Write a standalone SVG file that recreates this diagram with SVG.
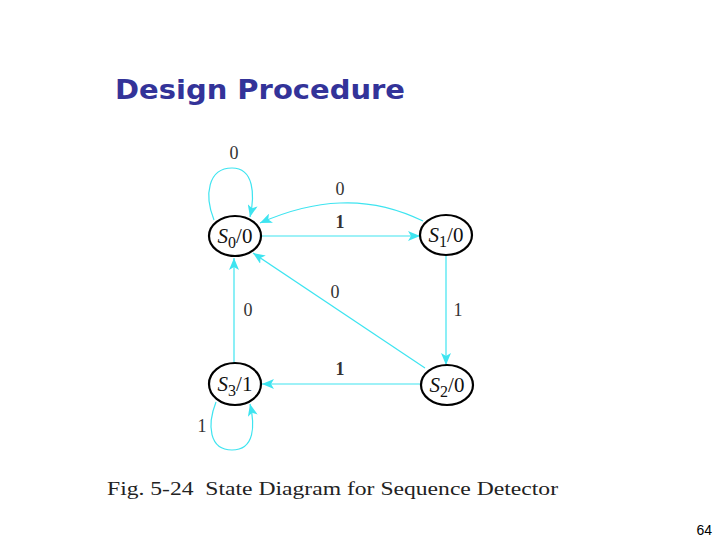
<svg xmlns="http://www.w3.org/2000/svg" width="720" height="540" viewBox="0 0 720 540">
<style>
.node{fill:#fff;stroke:#000;stroke-width:2.2}
.edge{fill:none;stroke:#3ee4f0;stroke-width:1.2}
.lbl{font-family:"Liberation Serif",serif;font-size:18px;fill:#333;text-anchor:middle}
.st{font-family:"Liberation Serif",serif;font-size:21px;fill:#111;text-anchor:middle}
</style>
<defs>
<marker id="ah" viewBox="0 0 12 10" refX="12" refY="5" markerWidth="12" markerHeight="10" markerUnits="userSpaceOnUse" orient="auto">
<path d="M0,0 L12,5 L0,10 L3,5 Z" fill="#3ee4f0"/>
</marker>
</defs>
<rect width="720" height="540" fill="#fff"/>
<text x="115" y="99" font-family="'DejaVu Sans',Verdana,sans-serif" font-weight="bold" font-size="27" fill="#333399" textLength="290" lengthAdjust="spacingAndGlyphs">Design Procedure</text>
<g id="connectors">
<path class="edge" d="M214,220 C204,195 208,168 232,168 C254,168 255,195 250,217" marker-end="url(#ah)"/>
<path class="edge" d="M423,221 C390,205 360,202 340,203 C310,204 285,212 260,223" marker-end="url(#ah)"/>
<path class="edge" d="M261,236 L420,236" marker-end="url(#ah)"/>
<path class="edge" d="M446,256 L446,365" marker-end="url(#ah)"/>
<path class="edge" d="M421,384 L262,384" marker-end="url(#ah)"/>
<path class="edge" d="M425,368 L253,253" marker-end="url(#ah)"/>
<path class="edge" d="M234,363 L234,258" marker-end="url(#ah)"/>
<path class="edge" d="M216,402 C207,425 209,450 232,450 C255,450 255,425 250,404" marker-end="url(#ah)"/>
<text class="lbl" x="234" y="159">0</text>
<text class="lbl" x="340" y="195">0</text>
<text class="lbl" x="340" y="228" font-weight="bold">1</text>
<text class="lbl" x="335" y="298">0</text>
<text class="lbl" x="248" y="316">0</text>
<text class="lbl" x="458" y="316">1</text>
<text class="lbl" x="340" y="375" font-weight="bold">1</text>
<text class="lbl" x="202" y="432">1</text>
</g>
<g id="S0">
<ellipse class="node" cx="235" cy="236" rx="26" ry="20"/>
<text class="st" x="235" y="243"><tspan font-style="italic">S</tspan><tspan font-size="16" dy="5">0</tspan><tspan dy="-5">/0</tspan></text>
</g>
<g id="S1">
<ellipse class="node" cx="446" cy="235" rx="26" ry="20"/>
<text class="st" x="446" y="242"><tspan font-style="italic">S</tspan><tspan font-size="16" dy="5">1</tspan><tspan dy="-5">/0</tspan></text>
</g>
<g id="S2">
<ellipse class="node" cx="447" cy="385" rx="26" ry="20"/>
<text class="st" x="447" y="392"><tspan font-style="italic">S</tspan><tspan font-size="16" dy="5">2</tspan><tspan dy="-5">/0</tspan></text>
</g>
<g id="S3">
<ellipse class="node" cx="235" cy="384" rx="26" ry="21"/>
<text class="st" x="235" y="391"><tspan font-style="italic">S</tspan><tspan font-size="16" dy="5">3</tspan><tspan dy="-5">/1</tspan></text>
</g>
<text x="107" y="495" font-family="'Liberation Serif',serif" font-size="19" fill="#222" textLength="451" lengthAdjust="spacingAndGlyphs" xml:space="preserve">Fig. 5-24  State Diagram for Sequence Detector</text>
<text x="712" y="535" font-family="'Liberation Sans',Arial,sans-serif" font-size="14" fill="#000" text-anchor="end">64</text>
</svg>
